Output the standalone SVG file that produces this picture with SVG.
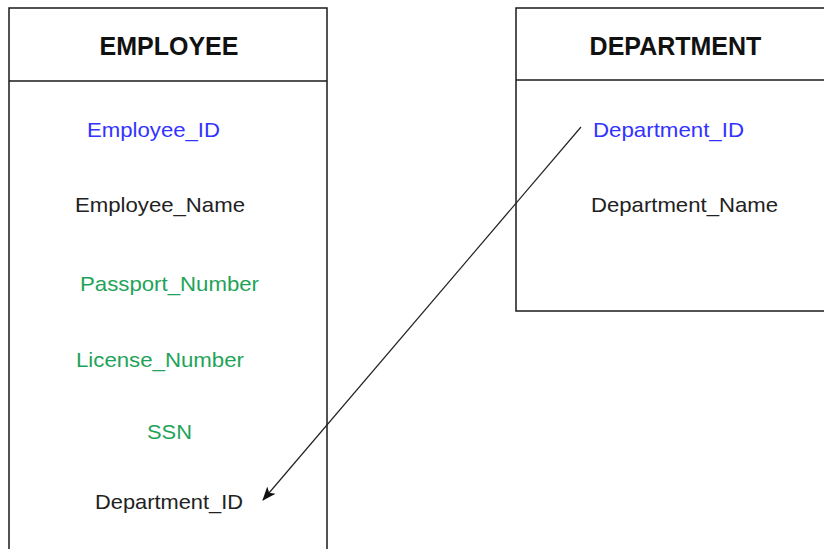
<svg xmlns="http://www.w3.org/2000/svg" width="824" height="549" viewBox="0 0 824 549">
<style>
.box{fill:#fff;stroke:#1a1a1a;stroke-width:1.5}
.hdr{font-family:"Liberation Sans",Arial,sans-serif;font-weight:bold;font-size:25px;fill:#111;text-anchor:middle}
.att{font-family:"Liberation Sans",Arial,sans-serif;font-size:21px}
.pk{fill:#3333ff}
.ck{fill:#1fa35a}
.nk{fill:#222}
.conn{stroke:#222;stroke-width:1.2;fill:none}
</style>
<defs>
<marker id="arr" markerWidth="16" markerHeight="14" refX="13" refY="7" orient="auto" markerUnits="userSpaceOnUse">
<path d="M0,1.5 L14,7 L0,12.5 L3.5,7 Z" fill="#111"/>
</marker>
</defs>
<rect width="824" height="549" fill="#fff"/>
<g id="employee">
<rect class="box" x="9" y="8" width="318" height="560"/>
<line class="box" x1="9" y1="81" x2="327" y2="81"/>
<text class="hdr" x="169" y="55">EMPLOYEE</text>
<text class="att pk" x="87" y="137" textLength="133" lengthAdjust="spacingAndGlyphs">Employee_ID</text>
<text class="att nk" x="75" y="212" textLength="170" lengthAdjust="spacingAndGlyphs">Employee_Name</text>
<text class="att ck" x="80" y="291" textLength="179" lengthAdjust="spacingAndGlyphs">Passport_Number</text>
<text class="att ck" x="76" y="367" textLength="168" lengthAdjust="spacingAndGlyphs">License_Number</text>
<text class="att ck" x="147" y="439" textLength="45" lengthAdjust="spacingAndGlyphs">SSN</text>
<text class="att nk" x="95" y="509" textLength="148" lengthAdjust="spacingAndGlyphs">Department_ID</text>
</g>
<g id="department">
<rect class="box" x="516" y="8" width="320" height="303"/>
<line class="box" x1="516" y1="80" x2="836" y2="80"/>
<text class="hdr" x="675.5" y="55">DEPARTMENT</text>
<text class="att pk" x="593" y="137" textLength="151" lengthAdjust="spacingAndGlyphs">Department_ID</text>
<text class="att nk" x="591" y="212" textLength="187" lengthAdjust="spacingAndGlyphs">Department_Name</text>
</g>
<g id="connectors">
<line class="conn" x1="581" y1="127" x2="263" y2="500" marker-end="url(#arr)"/>
</g>
</svg>
